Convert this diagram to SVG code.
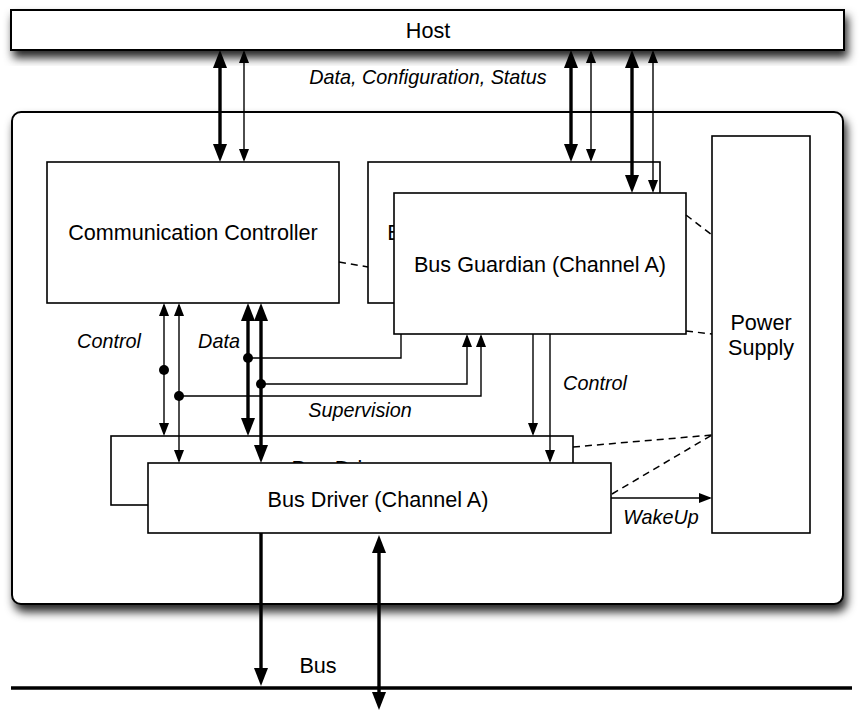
<svg xmlns="http://www.w3.org/2000/svg" width="864" height="711" viewBox="0 0 864 711">
  <defs>
    <style>
      .box { fill: #ffffff; stroke: #000000; stroke-width: 1.6; }
      .frame { fill: #ffffff; stroke: #000000; stroke-width: 2; }
      .lbl { font-family: "Liberation Sans", Arial, sans-serif; font-size: 21.6px; fill: #000000; text-anchor: middle; }
      .ital { font-family: "Liberation Sans", Arial, sans-serif; font-size: 19.8px; font-style: italic; fill: #000000; text-anchor: middle; }
      .thick { fill: none; stroke: #000000; stroke-width: 3.4; }
      .thin { fill: none; stroke: #000000; stroke-width: 1.4; }
      .dash { fill: none; stroke: #000000; stroke-width: 1.5; stroke-dasharray: 7 5; }
      .dot { fill: #000000; }
    </style>
    <filter id="shadow" x="-5%" y="-20%" width="115%" height="160%">
      <feDropShadow dx="3" dy="7" stdDeviation="5" flood-color="#000000" flood-opacity="0.85"/>
    </filter>
    <marker id="headThick" markerUnits="userSpaceOnUse" markerWidth="18" markerHeight="14" refX="13" refY="7" orient="auto-start-reverse">
      <path d="M0,0 L18,7 L0,14 z" fill="#000000"/>
    </marker>
    <marker id="headThin" markerUnits="userSpaceOnUse" markerWidth="13" markerHeight="10" refX="11" refY="5" orient="auto-start-reverse">
      <path d="M0,0 L13,5 L0,10 z" fill="#000000"/>
    </marker>
  </defs>

  <rect width="864" height="711" fill="#ffffff"/>

  <!-- host bar -->
  <g id="host">
    <rect class="frame" x="11" y="10" width="833" height="40" filter="url(#shadow)"/>
    <text class="lbl" x="428" y="38">Host</text>
  </g>

  <!-- node card -->
  <g id="node-card">
    <rect class="frame" x="12" y="112" width="831" height="492" rx="9" ry="9" filter="url(#shadow)"/>
  </g>

  <g id="communication-controller">
    <rect class="box" x="47" y="162" width="292" height="141"/>
    <text class="lbl" x="193" y="240">Communication Controller</text>
  </g>

  <g id="bus-guardian-b">
    <rect class="box" x="368" y="162" width="292" height="141"/>
    <text class="lbl" x="514" y="240">Bus Guardian (Channel B)</text>
  </g>

  <g id="bus-guardian-a">
    <rect class="box" x="394" y="193" width="292" height="141"/>
    <text class="lbl" x="540" y="272">Bus Guardian (Channel A)</text>
  </g>

  <g id="bus-driver-b">
    <rect class="box" x="111" y="436" width="462" height="69"/>
    <text class="lbl" x="342" y="475.5">Bus Driver</text>
  </g>

  <g id="bus-driver-a">
    <rect class="box" x="148" y="463" width="463" height="70"/>
    <text class="lbl" x="378" y="507">Bus Driver (Channel A)</text>
  </g>

  <g id="power-supply">
    <rect class="box" x="712" y="136" width="98" height="397"/>
    <text class="lbl" x="761" y="330">Power</text>
    <text class="lbl" x="761" y="355">Supply</text>
  </g>

  <!-- bus line -->
  <g id="bus">
    <line x1="11" y1="688" x2="852" y2="688" stroke="#000000" stroke-width="3.4"/>
    <text class="lbl" x="318" y="673">Bus</text>
  </g>

  <!-- connectors -->
  <g id="connectors">
    <!-- host interface -->
    <path class="thick" d="M220,55 V157" marker-start="url(#headThick)" marker-end="url(#headThick)"/>
    <path class="thin" d="M244,52 V160" marker-start="url(#headThin)" marker-end="url(#headThin)"/>
    <path class="thick" d="M571,55 V157" marker-start="url(#headThick)" marker-end="url(#headThick)"/>
    <path class="thin" d="M591,52 V160" marker-start="url(#headThin)" marker-end="url(#headThin)"/>
    <path class="thick" d="M632,55 V188" marker-start="url(#headThick)" marker-end="url(#headThick)"/>
    <path class="thin" d="M653,52 V191" marker-start="url(#headThin)" marker-end="url(#headThin)"/>

    <!-- controller to drivers -->
    <path class="thin" d="M164,305 V434" marker-start="url(#headThin)" marker-end="url(#headThin)"/>
    <path class="thin" d="M179,305 V461" marker-start="url(#headThin)" marker-end="url(#headThin)"/>
    <path class="thick" d="M248,308 V431" marker-start="url(#headThick)" marker-end="url(#headThick)"/>
    <path class="thick" d="M261,308 V458" marker-start="url(#headThick)" marker-end="url(#headThick)"/>

    <!-- supervision taps -->
    <path class="thin" d="M248,358 H401 V334"/>
    <path class="thin" d="M261,384 H467 V336" marker-end="url(#headThin)"/>
    <path class="thin" d="M179,396 H481 V336" marker-end="url(#headThin)"/>
    <circle class="dot" cx="164" cy="370" r="5"/>
    <circle class="dot" cx="179" cy="396" r="5"/>
    <circle class="dot" cx="248" cy="358" r="5"/>
    <circle class="dot" cx="261" cy="384" r="5"/>

    <!-- guardian control to drivers -->
    <path class="thin" d="M533,334 V434" marker-end="url(#headThin)"/>
    <path class="thin" d="M550,334 V461" marker-end="url(#headThin)"/>

    <!-- wakeup -->
    <path class="thin" d="M611,498 H710" marker-end="url(#headThin)"/>

    <!-- bus attachment -->
    <path class="thick" d="M261,533 V681" marker-end="url(#headThick)"/>
    <path class="thick" d="M379,540 V705" marker-start="url(#headThick)" marker-end="url(#headThick)"/>

    <!-- dashed links -->
    <path class="dash" d="M339,262 L368,267"/>
    <path class="dash" d="M686,215 L712,235"/>
    <path class="dash" d="M686,331 L712,334"/>
    <path class="dash" d="M573,447 L712,435"/>
    <path class="dash" d="M612,494 L712,435"/>
  </g>

  <!-- labels -->
  <g id="labels">
    <text class="ital" x="428" y="84">Data, Configuration, Status</text>
    <text class="ital" x="109" y="348">Control</text>
    <text class="ital" x="219" y="348">Data</text>
    <text class="ital" x="360" y="417">Supervision</text>
    <text class="ital" x="595" y="390">Control</text>
    <text class="ital" x="661" y="524">WakeUp</text>
  </g>
</svg>
